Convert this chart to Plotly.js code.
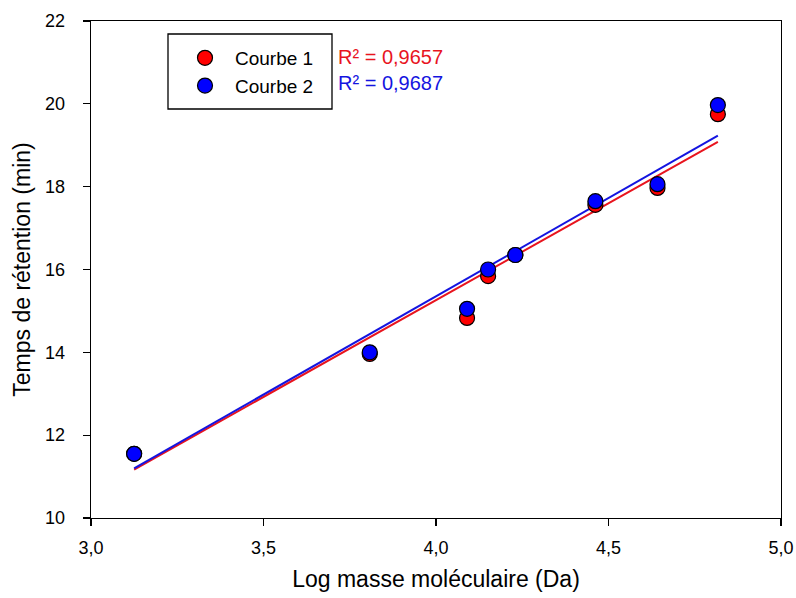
<!DOCTYPE html>
<html>
<head>
<meta charset="utf-8">
<script src="https://cdn.plot.ly/plotly-3.0.1.min.js"></script>
<style>html,body{margin:0;padding:0;background:#fff;}#chart{width:796px;height:598px;}</style>
</head>
<body>
<div id="chart"></div>
<script>
// Data
const logMass = [3.125, 3.808, 4.090, 4.151, 4.230, 4.462, 4.642, 4.817];
const courbe1 = [11.55, 13.96, 14.83, 15.84, 16.35, 17.56, 17.97, 19.75];
const courbe2 = [11.55, 14.00, 15.05, 16.00, 16.35, 17.65, 18.06, 19.97];
const fitX = [3.125, 4.817];
const fit1Y = [11.17, 19.08];
const fit2Y = [11.20, 19.23];
const r2Labels = ['R² = 0,9657', 'R² = 0,9687'];
const seriesNames = ['Courbe 1', 'Courbe 2'];
const yTicks = [10, 12, 14, 16, 18, 20, 22];
const xTicks = [3.0, 3.5, 4.0, 4.5, 5.0];

const FONT = 'Arial, "Liberation Sans", sans-serif';
const traces = [
  {x: fitX, y: fit1Y, mode: 'lines', line: {color: '#e8141e', width: 2}, showlegend: false, hoverinfo: 'skip'},
  {x: fitX, y: fit2Y, mode: 'lines', line: {color: '#1414e0', width: 2}, showlegend: false, hoverinfo: 'skip'},
  {x: logMass, y: courbe1, mode: 'markers', name: seriesNames[0],
   marker: {color: '#ff0000', size: 15, line: {color: '#000', width: 1.2}}},
  {x: logMass, y: courbe2, mode: 'markers', name: seriesNames[1],
   marker: {color: '#0000ff', size: 15, line: {color: '#000', width: 1.2}}}
];

const L = 91, R = 15, T = 21, B = 80;
const PW = 796 - L - R, PH = 598 - T - B;
const px = v => (v - L) / PW;
const py = v => 1 - (v - T) / PH;

const layout = {
  width: 796, height: 598,
  margin: {l: L, r: R, t: T, b: B},
  paper_bgcolor: '#fff', plot_bgcolor: '#fff',
  separators: ', ',
  font: {family: FONT, size: 18, color: '#000'},
  showlegend: true,
  legend: {
    x: px(175), y: py(39), xanchor: 'left', yanchor: 'top',
    borderwidth: 0, bgcolor: 'rgba(0,0,0,0)',
    font: {family: FONT, size: 19, color: '#000'},
    tracegroupgap: 0, itemwidth: 50
  },
  shapes: [
    {type: 'rect', xref: 'paper', yref: 'paper', x0: px(168), x1: px(332), y0: py(109), y1: py(34),
     line: {color: '#000', width: 1.3}, fillcolor: 'rgba(0,0,0,0)', layer: 'below'}
  ],
  xaxis: {
    range: [3.0, 5.0], tickvals: xTicks, tickformat: '.1f',
    showgrid: false, zeroline: false,
    showline: true, linecolor: '#000', linewidth: 1.3, mirror: true,
    ticks: 'outside', ticklen: 7, tickcolor: '#000', tickwidth: 1.3,
    ticklabelstandoff: 6,
    tickfont: {family: FONT, size: 18},
    title: {text: 'Log masse moléculaire (Da)', font: {family: FONT, size: 23}, standoff: 14}
  },
  yaxis: {
    range: [10, 22], tickvals: yTicks,
    showgrid: false, zeroline: false,
    showline: true, linecolor: '#000', linewidth: 1.3, mirror: true,
    ticks: 'outside', ticklen: 7, tickcolor: '#000', tickwidth: 1.3,
    ticklabelstandoff: 14,
    tickfont: {family: FONT, size: 18},
    title: {text: 'Temps de rétention (min)', font: {family: FONT, size: 23}, standoff: 8}
  },
  annotations: [
    {xref: 'paper', yref: 'paper', x: px(336), y: py(57), xanchor: 'left', yanchor: 'middle',
     text: r2Labels[0], showarrow: false, font: {family: FONT, size: 20, color: '#e8141e'}},
    {xref: 'paper', yref: 'paper', x: px(336), y: py(83), xanchor: 'left', yanchor: 'middle',
     text: r2Labels[1], showarrow: false, font: {family: FONT, size: 20, color: '#1414e0'}}
  ]
};

Plotly.newPlot('chart', traces, layout, {displayModeBar: false, staticPlot: true});
</script>
</body>
</html>
